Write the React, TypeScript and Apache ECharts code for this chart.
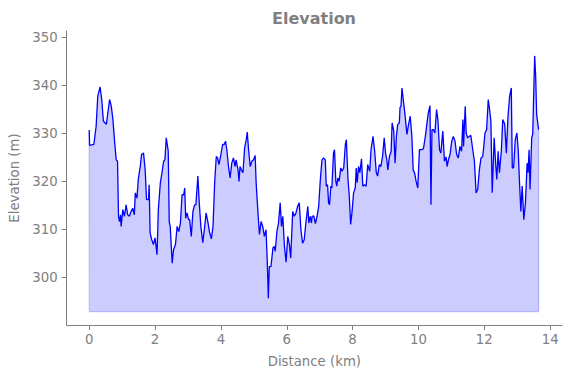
import React, { useEffect, useRef } from "react";
import * as echarts from "echarts";

const distanceKm = [
  0.0, 0.01, 0.14, 0.21, 0.26, 0.33, 0.38, 0.43, 0.52, 0.62, 0.67, 0.72, 0.77, 0.82, 0.86, 0.89, 0.92, 0.95, 0.97,
  1.02, 1.07, 1.12, 1.17, 1.22, 1.27, 1.32, 1.37, 1.4, 1.45, 1.49, 1.55, 1.59, 1.65, 1.7, 1.74, 1.8, 1.82, 1.85,
  1.9, 1.95, 2.0, 2.06, 2.1,
  2.16, 2.21, 2.26, 2.3, 2.34, 2.36, 2.4, 2.43, 2.46, 2.52, 2.56, 2.62, 2.67, 2.72, 2.77, 2.82, 2.87, 2.9, 2.93,
  2.97, 3.02, 3.05, 3.1, 3.15, 3.2, 3.24, 3.3, 3.34, 3.39, 3.45, 3.5, 3.55, 3.61, 3.65, 3.71, 3.76, 3.81, 3.86,
  3.9, 3.94, 4.0, 4.05, 4.1, 4.14, 4.18, 4.23, 4.28, 4.33, 4.38, 4.43,
  4.46, 4.52, 4.55, 4.58, 4.62, 4.67, 4.72, 4.77, 4.8, 4.84, 4.89, 4.94, 4.99, 5.04, 5.07, 5.12, 5.17, 5.22, 5.27,
  5.32, 5.37, 5.41, 5.44, 5.47, 5.52, 5.58, 5.62, 5.65, 5.7, 5.75, 5.8, 5.84, 5.88, 5.93, 5.98, 6.03, 6.08, 6.12,
  6.18, 6.23, 6.28, 6.33, 6.38, 6.43, 6.48, 6.53, 6.58, 6.64, 6.67, 6.71, 6.75,
  6.77, 6.82, 6.87, 6.92, 6.97, 7.02, 7.07, 7.12, 7.17, 7.2, 7.24, 7.27, 7.3, 7.34, 7.37, 7.42, 7.45, 7.49, 7.52,
  7.55, 7.59, 7.64, 7.68, 7.73, 7.78, 7.81, 7.86, 7.9, 7.94, 7.98, 8.03, 8.08, 8.11, 8.14, 8.18, 8.22, 8.27, 8.31,
  8.36, 8.41, 8.46, 8.52, 8.56, 8.62, 8.67, 8.72, 8.76, 8.81, 8.86, 8.91, 8.96, 9.0, 9.04,
  9.07, 9.12, 9.17, 9.2, 9.25, 9.29, 9.33, 9.37, 9.42, 9.44, 9.47, 9.5, 9.55, 9.59, 9.65, 9.7, 9.75, 9.8, 9.84,
  9.88, 9.93, 9.98, 10.03, 10.08, 10.15, 10.21, 10.26, 10.3, 10.35, 10.38, 10.41, 10.45, 10.5, 10.55, 10.59,
  10.64, 10.68, 10.74, 10.79, 10.84, 10.87, 10.91, 10.96, 11.01, 11.06, 11.11, 11.16, 11.21, 11.26, 11.31, 11.35,
  11.37, 11.42, 11.45, 11.49, 11.55, 11.59, 11.65, 11.7, 11.75, 11.8, 11.85, 11.9, 11.95, 11.98, 12.02, 12.07,
  12.12, 12.16, 12.2, 12.24, 12.3, 12.35, 12.38, 12.42, 12.46, 12.52, 12.56, 12.62, 12.67, 12.72, 12.77, 12.82,
  12.85, 12.89, 12.94, 12.99, 13.03, 13.07, 13.11, 13.15, 13.2, 13.25, 13.3, 13.33, 13.36, 13.39, 13.44, 13.47,
  13.53, 13.56, 13.59, 13.65,
];

const elevationM = [
  330.7, 327.5, 327.7, 331.5, 337.8, 339.7, 337.1, 332.6, 331.9, 337.1, 335.7, 332.9, 328.4, 324.5, 324.2, 312.7,
  311.6, 313.0, 310.6, 314.1, 312.7, 315.1, 313.0, 312.7, 313.7, 314.4, 313.0, 317.6, 316.5, 320.4, 323.1, 325.6,
  325.9, 322.4, 316.2, 316.2, 319.3, 309.2, 307.8, 306.8, 308.2, 304.7, 314.1,
  319.7, 321.8, 324.2, 324.5, 329.1, 329.1, 326.3, 311.6, 310.6, 302.9, 305.7, 306.8, 310.6, 309.5, 311.3, 317.2,
  317.2, 318.6, 312.3, 313.4, 312.0, 312.0, 308.5, 313.7, 315.1, 315.1, 321.1, 315.8, 310.6, 307.2, 310.1, 313.4,
  311.3, 309.5, 308.0, 310.6, 319.7, 325.2, 324.9, 323.5, 325.6, 327.7, 327.7, 328.4, 326.6, 323.1, 320.7, 323.8,
  324.9, 323.1,
  324.5, 322.4, 320.0, 323.1, 322.4, 321.8, 327.0, 328.7, 330.3, 326.6, 323.1, 324.2, 324.5, 325.4, 319.7, 314.1,
  308.9, 311.6, 310.6, 308.5, 309.9, 302.9, 295.6, 302.2, 302.2, 306.1, 306.4, 305.4, 309.5, 311.3, 315.5, 310.6,
  312.7, 306.4, 303.1, 308.5, 306.8, 304.0, 313.7, 312.7, 313.4, 314.8, 315.5, 309.9, 307.1, 307.8, 311.3, 314.8,
  311.3, 312.7, 311.3,
  312.7, 312.8, 311.2, 312.7, 314.8, 320.4, 324.5, 324.9, 324.5, 319.0, 319.3, 315.5, 315.1, 319.0, 318.6, 325.9,
  326.6, 320.0, 319.0, 320.7, 320.0, 322.8, 322.1, 322.8, 327.7, 328.7, 320.4, 316.9, 311.0, 313.4, 317.6, 318.6,
  322.8, 319.7, 323.1, 321.8, 324.7, 319.0, 319.3, 319.0, 323.5, 322.1, 326.6, 329.4, 326.3, 321.8, 321.1, 323.5,
  323.1, 325.2, 329.1, 325.9, 324.5,
  322.4, 325.2, 326.3, 332.2, 330.5, 323.8, 329.4, 331.9, 332.2, 335.4, 335.7, 339.5, 336.4, 334.0, 329.8, 331.9,
  333.6, 329.4, 322.4, 321.8, 320.0, 318.6, 326.6, 326.6, 326.8, 329.4, 332.2, 334.3, 335.8, 315.1, 330.8, 330.8,
  330.1, 335.0, 332.9, 326.6, 325.9, 330.5, 324.2, 325.1, 323.1, 324.5, 325.6, 328.4, 329.4, 328.4, 325.6, 324.9,
  327.3, 326.3, 332.9,
  327.3, 335.7, 330.1, 329.1, 329.4, 329.6, 326.6, 324.2, 317.6, 318.3, 322.4, 324.9, 325.2, 327.0, 330.1, 330.8,
  337.1, 335.0, 332.6, 317.6, 329.1, 323.1, 320.4, 326.3, 321.8, 326.6, 332.9, 331.9, 325.9, 333.6, 337.8, 339.5,
  322.8, 322.8, 328.7, 330.1, 326.6, 319.7, 313.7, 319.0, 312.0, 315.5, 323.8, 321.8, 326.6, 318.3, 329.1, 329.8,
  346.2, 342.0, 334.0, 330.8,
];

const BASELINE_M = 292.8;
const xTicks = [0, 2, 4, 6, 8, 10, 12, 14];
const yTicks = [300, 310, 320, 330, 340, 350];

const TEXT_GRAY = "#808080";
const FONT = "DejaVu Sans";

export default function App() {
  const ref = useRef<HTMLDivElement>(null);

  useEffect(() => {
    if (!ref.current) return;
    const chart = echarts.init(ref.current, undefined, { renderer: "svg" });
    const line = distanceKm.map((d, i) => [d, elevationM[i]]);
    const n = distanceKm.length;
    const outline = [
      [distanceKm[0], elevationM[0]],
      [distanceKm[0], BASELINE_M],
      [distanceKm[n - 1], BASELINE_M],
      [distanceKm[n - 1], elevationM[n - 1]],
    ];
    chart.setOption({
      animation: false,
      backgroundColor: "#ffffff",
      textStyle: { fontFamily: FONT },
      grid: { left: 66.7, right: 9, top: 31, bottom: 53 },
      graphic: [
        {
          type: "text",
          x: 314,
          y: 18,
          style: {
            text: "Elevation",
            fontFamily: FONT,
            fontSize: 16,
            fontWeight: "bold",
            fill: TEXT_GRAY,
            textAlign: "center",
            textVerticalAlign: "middle",
          },
        },
      ],
      xAxis: {
        type: "value",
        min: -0.684,
        max: 14.36,
        name: "Distance (km)",
        nameLocation: "middle",
        nameGap: 30,
        nameTextStyle: { color: TEXT_GRAY, fontSize: 13.3, fontFamily: FONT },
        axisLine: { show: true, onZero: false, lineStyle: { color: TEXT_GRAY, width: 1 } },
        axisTick: { show: true, length: 5, customValues: xTicks, lineStyle: { color: TEXT_GRAY } },
        axisLabel: { show: true, customValues: xTicks, margin: 8, color: TEXT_GRAY, fontSize: 13.3, fontFamily: FONT },
        splitLine: { show: false },
      },
      yAxis: {
        type: "value",
        min: 290.0,
        max: 351.4,
        name: "Elevation (m)",
        nameLocation: "middle",
        nameGap: 41,
        nameTextStyle: { color: TEXT_GRAY, fontSize: 13.3, fontFamily: FONT },
        axisLine: { show: true, onZero: false, lineStyle: { color: TEXT_GRAY, width: 1 } },
        axisTick: { show: true, length: 5, customValues: yTicks, lineStyle: { color: TEXT_GRAY } },
        axisLabel: { show: true, customValues: yTicks, margin: 9, color: TEXT_GRAY, fontSize: 13.3, fontFamily: FONT },
        splitLine: { show: false },
      },
      series: [
        {
          type: "line",
          data: outline,
          showSymbol: false,
          silent: true,
          z: 1,
          lineStyle: { color: "rgba(0,0,255,0.22)", width: 1.2 },
        },
        {
          type: "line",
          data: line,
          showSymbol: false,
          z: 2,
          lineStyle: { color: "#0000ff", width: 1.3 },
          areaStyle: { color: "rgba(0,0,255,0.2)", origin: BASELINE_M, opacity: 1 },
        },
      ],
    });
    return () => chart.dispose();
  }, []);

  return (
    <div
      ref={ref}
      style={{ position: "fixed", left: 0, top: 0, width: 571, height: 378 }}
    />
  );
}
